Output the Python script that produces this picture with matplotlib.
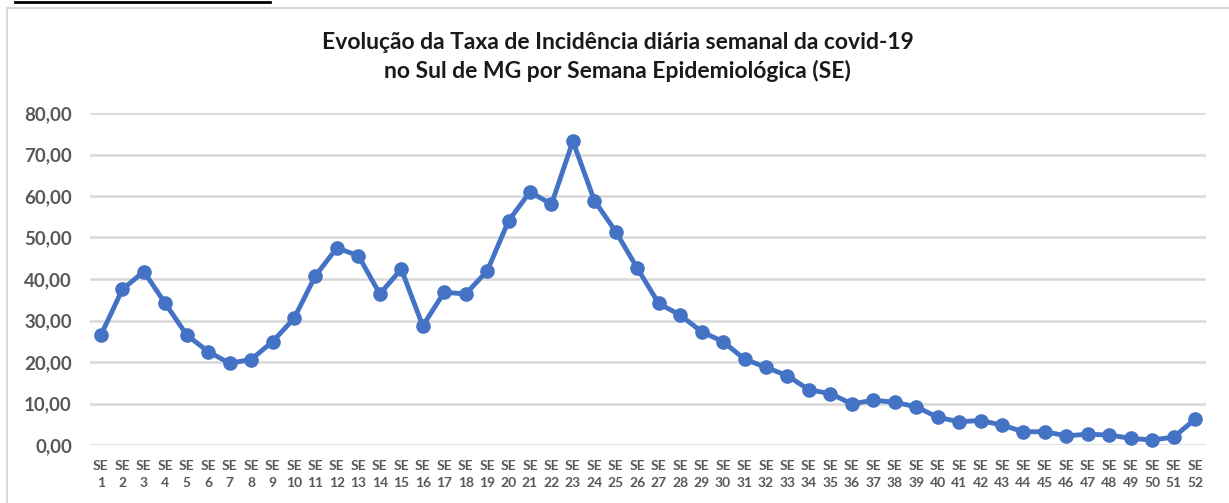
import matplotlib
matplotlib.use("Agg")
import matplotlib.pyplot as plt
from matplotlib.lines import Line2D

weeks = list(range(1, 53))
tick_labels = [f"SE\n{w}" for w in weeks]
values = [26.5, 37.5, 41.8, 34.1, 26.5, 22.5, 19.7, 20.6, 24.9, 30.5,
          40.8, 47.5, 45.6, 36.4, 42.4, 28.7, 36.8, 36.4, 41.9, 54.0,
          61.0, 58.0, 73.2, 58.9, 51.4, 42.6, 34.1, 31.3, 27.3, 24.9,
          20.7, 18.7, 16.7, 13.3, 12.4, 9.9, 10.8, 10.3, 9.2, 6.7,
          5.6, 5.9, 4.8, 3.2, 3.2, 2.2, 2.6, 2.4, 1.6, 1.2,
          1.9, 6.2]
yticks = [0, 10, 20, 30, 40, 50, 60, 70, 80]
title = "Evolução da Taxa de Incidência diária semanal da covid-19\nno Sul de MG por Semana Epidemiológica (SE)"

W, H = 1229, 503
fig = plt.figure(figsize=(W / 100, H / 100), dpi=100)
fig.patch.set_facecolor("white")

# chart frame (left and top borders)
fig.add_artist(Line2D([7 / W, 7 / W], [0, 1 - 8 / H], color="#D9D9D9", lw=1.5, transform=fig.transFigure))
fig.add_artist(Line2D([7 / W, 1], [1 - 8 / H, 1 - 8 / H], color="#D9D9D9", lw=1.5, transform=fig.transFigure))
# cropped underline at the very top
fig.add_artist(Line2D([15 / W, 270 / W], [1 - 1.5 / H, 1 - 1.5 / H], color="black", lw=2, transform=fig.transFigure))

ax = fig.add_axes([90 / W, 58 / H, (1206 - 90) / W, (445 - 113) / H])
ax.set_xlim(0.49, 52.51)
ax.set_ylim(0, 80)
ax.plot(weeks, values, color="#4472C4", lw=3.5, marker="o", markersize=9.5,
        markerfacecolor="#4472C4", markeredgecolor="#4472C4", zorder=3, clip_on=False)

ax.set_yticks(yticks)
ax.set_yticklabels([f"{v:.2f}".replace(".", ",") for v in yticks],
                   fontsize=13.5, color="#595959", fontfamily="Lato", fontweight="bold")
ax.set_xticks(weeks)
ax.set_xticklabels(tick_labels, fontsize=10, color="#595959", fontfamily="Lato",
                   fontweight="bold", linespacing=1.5)
ax.tick_params(axis="both", length=0)
ax.tick_params(axis="y", pad=13)
ax.tick_params(axis="x", pad=11)
ax.grid(axis="y", color="#D9D9D9", lw=1.8)
ax.set_axisbelow(True)
for s in ax.spines.values():
    s.set_visible(False)

fig.text(0.5 + 3 / W, 1 - 57 / H, title, ha="center", va="center", fontsize=16.5,
         fontfamily="Lato", fontweight="bold", color="#1a1a1a", linespacing=1.35)

fig.savefig("out.png", dpi=100, facecolor="white")
